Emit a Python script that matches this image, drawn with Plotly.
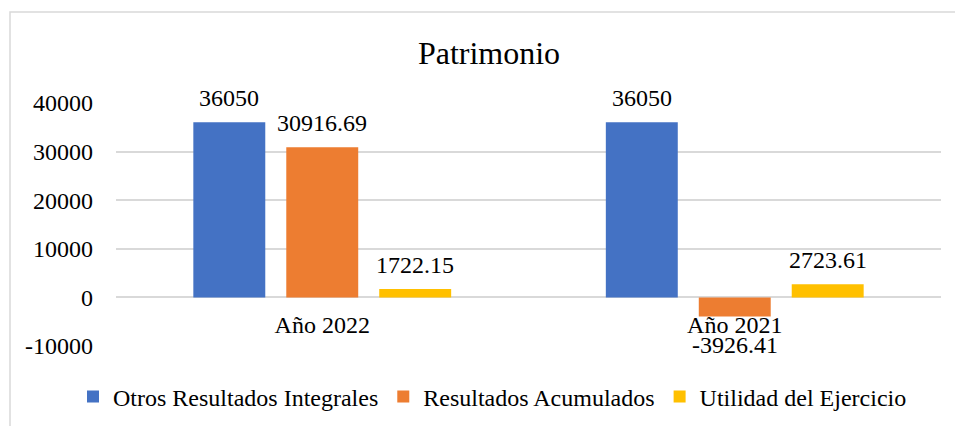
import plotly.graph_objects as go

categories = ["Año 2022", "Año 2021"]
series_names = ["Otros Resultados Integrales", "Resultados Acumulados", "Utilidad del Ejercicio"]
otros = [36050, 36050]
acumulados = [30916.69, -3926.41]
utilidad = [1722.15, 2723.61]
label_otros = ["36050", "36050"]
label_acum = ["30916.69", "-3926.41"]
label_util = ["1722.15", "2723.61"]
tick_vals = [-10000, 0, 10000, 20000, 30000, 40000]
tick_text = ["-10000", "0", "10000", "20000", "30000", "40000"]

colors = ["#4472C4", "#ED7D31", "#FFC000"]
FONT = "Liberation Serif"

fig = go.Figure()
series = [otros, acumulados, utilidad]
labels = [label_otros, label_acum, label_util]
for name, vals, col in zip(series_names, series, colors):
    fig.add_trace(go.Bar(name=name, x=categories, y=vals, marker=dict(color=col, line=dict(width=0))))

slot_px = 93
for i, (vals, labs) in enumerate(zip(series, labels)):
    for cat, v, lab in zip(categories, vals, labs):
        fig.add_annotation(
            x=cat, y=v, xref="x", yref="y", text=lab, showarrow=False,
            xshift=(i - 1) * slot_px,
            yanchor="bottom" if v >= 0 else "top",
            yshift=9 if v >= 0 else -14,
            font=dict(family=FONT, size=24, color="#000000"),
        )

fig.update_layout(
    width=955, height=426,
    margin=dict(l=116, r=14, t=103, b=80, autoexpand=False),
    paper_bgcolor="white", plot_bgcolor="white",
    font=dict(family=FONT, size=24, color="#000000"),
    title=dict(text="Patrimonio", x=489 / 955, xref="container", xanchor="center",
               y=1 - 53 / 426, yref="container", yanchor="middle",
               font=dict(family=FONT, size=32, color="#000000")),
    barmode="group", bargap=0.324, bargroupgap=0.226,
    showlegend=True,
    legend=dict(orientation="h", xref="paper", x=(73 - 116) / 825, xanchor="left",
                yref="paper", y=(346 - 397) / 243, yanchor="middle",
                font=dict(family=FONT, size=24, color="#000000"),
                itemwidth=30, tracegroupgap=0),
    xaxis=dict(anchor="free", position=0.2, showline=False, showgrid=False,
               ticks="", ticklabelstandoff=11, zeroline=False,
               tickfont=dict(family=FONT, size=24, color="#000000")),
    yaxis=dict(range=[-10000, 40000], tickvals=tick_vals, ticktext=tick_text,
               showgrid=True, gridcolor="#D9D9D9", gridwidth=1.5,
               zeroline=True, zerolinecolor="#D9D9D9", zerolinewidth=1.5,
               showline=False, ticks="", ticklabelstandoff=22,
               tickfont=dict(family=FONT, size=24, color="#000000")),
    shapes=[dict(type="rect", xref="paper", yref="paper",
                 x0=(10 - 116) / 825, x1=(970 - 116) / 825,
                 y0=(346 - 450) / 243, y1=(346 - 12) / 243,
                 line=dict(color="#D9D9D9", width=1.5), fillcolor="rgba(0,0,0,0)",
                 layer="below")],
)

fig.write_html("out.html", config={"displayModeBar": False},
               post_script="document.body.style.margin='0';")
